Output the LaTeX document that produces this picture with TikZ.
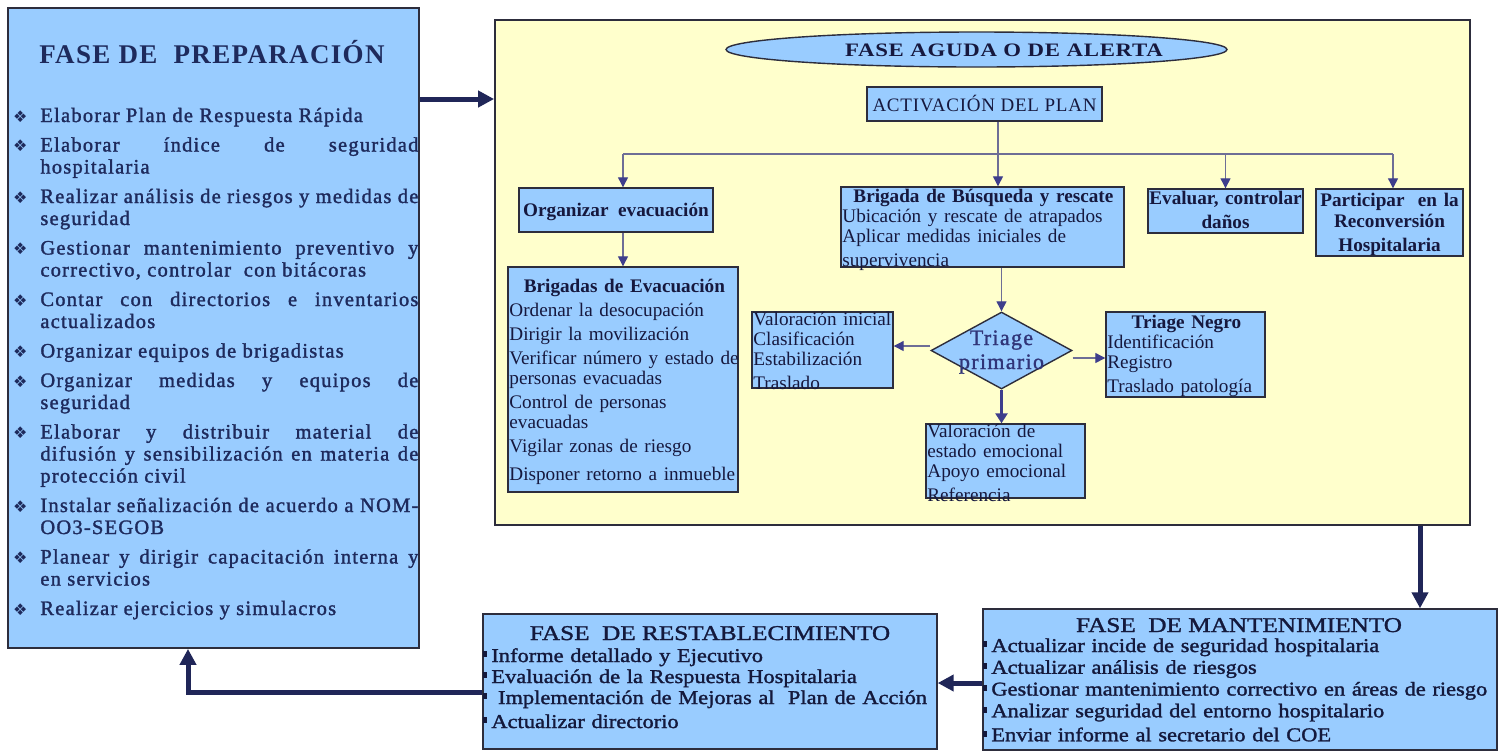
\documentclass[tikz,border=0pt]{standalone}
\usepackage{fontspec}
\setmainfont{Liberation Serif}
\newfontfamily\dejavu{DejaVu Sans}
\newfontfamily\prepfam[FakeBold=1.5]{Liberation Serif}
\newfontfamily\bstretch[FakeStretch=1.15,FakeBold=1.5]{Liberation Serif}
\newfontfamily\tstretch[FakeStretch=1.2,FakeBold=1.5]{Liberation Serif}
\newfontfamily\widefam[FakeStretch=1.2]{Liberation Serif}
\newfontfamily\trifam[FakeBold=1.2]{Liberation Serif}
\usetikzlibrary{arrows.meta,shapes.geometric,fit}
\definecolor{boxblue}{RGB}{153,204,255}
\definecolor{ylw}{RGB}{255,255,204}
\definecolor{bordc}{RGB}{45,45,60}
\definecolor{navy}{RGB}{32,38,88}
\definecolor{preptext}{RGB}{30,42,92}
\definecolor{midtext}{RGB}{22,24,62}
\definecolor{tritext}{RGB}{48,52,120}
\definecolor{bottext}{RGB}{20,25,60}
\definecolor{linec}{RGB}{110,110,150}
\definecolor{headc}{RGB}{62,62,140}
\newcommand\mf{\fontsize{9.6pt}{10pt}\selectfont}
\newcommand\pb{\noindent\llap{{\dejavu\fontsize{8pt}{8pt}\selectfont ❖}\hspace{6.5pt}}}
\newcommand\sq{\makebox[4pt][l]{\rule[2.3pt]{2pt}{3pt}}}
\begin{document}
\begin{tikzpicture}[x=0.5pt,y=-0.5pt,
  bx/.style={draw=bordc, fill=boxblue, line width=0.7pt, inner sep=0pt},
  txtl/.style={anchor=base west, inner sep=0pt, align=left, text=midtext},
  txtc/.style={anchor=base, inner sep=0pt, align=center, text=midtext},
  plain/.style={draw=linec, line width=0.6pt},
  conn/.style={draw=linec, line width=0.6pt, -{Triangle[length=5pt,width=5pt,color=headc]}},
  medarrow/.style={draw=headc, line width=1.4pt, -{Triangle[length=5pt,width=6pt]}},
  bigarrow/.style={draw=navy, line width=2.5pt, -{Triangle[length=8pt,width=8pt]}}]
\fill[white] (0,0) rectangle (1499,751);
\useasboundingbox (0,0) rectangle (1499,751);

% ---------- FASE DE PREPARACION ----------
\node[bx, line width=0.9pt, fit={(8,8) (419,648)}] (prep) {};
\node[anchor=base, inner sep=0pt, text=preptext] (prept) at (212,63)
  {\fontsize{13.5pt}{14pt}\selectfont\bfseries\addfontfeature{LetterSpace=5}FASE DE\ \ PREPARACIÓN};
\node[anchor=base west, inner sep=0pt, text width=189pt, align=justify, text=preptext] (prepl) at (40,122)
  {\prepfam\fontsize{10.25pt}{11pt}\selectfont\addfontfeature{LetterSpace=6}\setlength\parskip{3.75pt}\setlength\parindent{0pt}%
  \pb Elaborar Plan de Respuesta Rápida\par
  \pb Elaborar índice de seguridad\linebreak hospitalaria\par
  \pb Realizar análisis de riesgos y medidas de\linebreak seguridad\par
  \pb Gestionar mantenimiento preventivo y\linebreak correctivo, controlar\ \ con bitácoras\par
  \pb Contar con directorios e inventarios\linebreak actualizados\par
  \pb Organizar equipos de brigadistas\par
  \pb Organizar medidas y equipos de\linebreak seguridad\par
  \pb Elaborar y distribuir material de\linebreak difusión y sensibilización en materia de\linebreak protección civil\par
  \pb Instalar señalización de acuerdo a NOM-\linebreak OO3-SEGOB\par
  \pb Planear y dirigir capacitación interna y\linebreak en servicios\par
  \pb Realizar ejercicios y simulacros\par};

% ---------- FASE AGUDA ----------
\node[draw=bordc, fill=ylw, line width=0.9pt, inner sep=0pt, fit={(495,20) (1470,525)}] (agu) {};
\draw[bigarrow] (prep.east |- 0,99) -- (agu.west |- 0,99);

\node[ellipse, draw=bordc, fill=boxblue, line width=0.7pt, inner sep=0pt,
      minimum width=250.5pt, minimum height=17.5pt] (ell) at (976.5,49.5) {};
\node[anchor=base, inner sep=0pt, text=midtext] (ellt) at (1004,56)
  {\widefam\fontsize{9.5pt}{10pt}\selectfont\bfseries\addfontfeature{LetterSpace=4}FASE AGUDA O DE ALERTA};

\node[bx, fit={(867,87) (1102,121)}] (act) {};
\node[anchor=base, inner sep=0pt, text=midtext] (actt) at (984.5,111)
  {\fontsize{9.5pt}{10pt}\selectfont\addfontfeature{LetterSpace=4}ACTIVACIÓN DEL PLAN};

\node[bx, fit={(519,188) (713,232)}] (org) {};
\node[anchor=base, inner sep=0pt, text=midtext] (orgt) at (616,216) {\mf\bfseries Organizar\ \ evacuación};

\node[bx, fit={(841,187) (1124,267)}] (brig) {};
\node[txtl, text width=150pt] (brigt) at (842,202)
  {\mf\makebox[141pt]{\bfseries Brigada de Búsqueda y rescate}\\Ubicación y rescate de atrapados\\Aplicar medidas iniciales de\\supervivencia};

\node[bx, fit={(1148,189) (1303,233)}] (eva) {};
\node[txtc, text width=80pt] (evat) at (1225.5,204) {\mf\bfseries Evaluar, controlar\\daños};

\node[bx, fit={(1316,189) (1463,256)}] (par) {};
\node[txtc, text width=76pt] (part) at (1389.5,206)
  {\fontsize{9.6pt}{10.5pt}\selectfont\bfseries Participar\ \ en la\\Reconversión\\Hospitalaria};

\node[bx, fit={(508,267) (738,492)}] (bev) {};
\node[txtl, text width=125pt] (bevt) at (509,292)
  {\mf\makebox[115pt]{\bfseries Brigadas de Evacuación}\\[2pt]Ordenar la desocupación\\[2pt]Dirigir la movilización\\[2pt]Verificar número y estado de\\personas evacuadas\\[2pt]Control de personas\\evacuadas\\[2pt]Vigilar zonas de riesgo\\[2pt]Disponer retorno a inmueble};

\node[bx, fit={(752,312) (893,388)}] (vi) {};
\node[txtl, text width=80pt] (vit) at (753,325) {\mf Valoración inicial\\Clasificación\\Estabilización\\Traslado};

\node[diamond, draw=bordc, fill=boxblue, line width=0.7pt, inner sep=0pt,
      minimum width=70.5pt, minimum height=38.5pt] (tp) at (1001.5,350.5) {};
\node[txtc, text width=60pt, text=tritext] (tpt) at (1001.5,345)
  {\trifam\fontsize{11pt}{10pt}\selectfont\addfontfeature{LetterSpace=6}Triage\\primario};

\node[bx, fit={(1106,312) (1265,397)}] (tn) {};
\node[txtl, text width=90pt] (tnt) at (1107,328)
  {\mf\makebox[79pt]{\bfseries Triage Negro}\\Identificación\\Registro\\Traslado patología};

\node[bx, fit={(926,424) (1085,498)}] (ve) {};
\node[txtl, text width=90pt] (vet) at (927,437)
  {\mf Valoración de\\estado emocional\\Apoyo emocional\\Referencia};

% connectors in the acute phase
\coordinate (hL) at (623,154);
\coordinate (hR) at (1393,154);
\draw[conn] (998,0 |- act.south) -- (998,0 |- brig.north);
\draw[plain] (hL) -- (hR);
\draw[conn] (hL) -- (hL |- org.north);
\draw[conn] (hL -| eva.north) -- (eva.north);
\draw[conn] (hR) -- (hR |- par.north);
\draw[conn] (bev.north |- org.south) -- (bev.north);
\draw[conn] (tp.north |- brig.south) -- (tp.north);
\draw[conn] (tp.west |- 0,346) -- (vi.east |- 0,346);
\draw[conn] (tp.east |- 0,358) -- (tn.west |- 0,358);
\draw[medarrow] (tp.south) -- (tp.south |- ve.north);

% ---------- FASE DE MANTENIMIENTO ----------
\node[bx, fit={(983,609) (1497,750)}] (mant) {};
\node[anchor=base, inner sep=0pt, text=bottext] (mantt) at (1239,632)
  {\tstretch\fontsize{10.5pt}{10pt}\selectfont FASE\ \ DE MANTENIMIENTO};
\node[txtl, text width=262pt, text=bottext] (mantl) at (983,652)
  {\bstretch\fontsize{9.75pt}{10.875pt}\selectfont
  \sq Actualizar incide de seguridad hospitalaria\\
  \sq Actualizar análisis de riesgos\\
  \sq Gestionar mantenimiento correctivo en áreas de riesgo\\
  \sq Analizar seguridad del entorno hospitalario\\
  \sq Enviar informe al secretario del COE};

% ---------- FASE DE RESTABLECIMIENTO ----------
\node[bx, fit={(483,614) (937,749)}] (rest) {};
\node[anchor=base, inner sep=0pt, text=bottext] (restt) at (710,640)
  {\tstretch\fontsize{10.5pt}{10pt}\selectfont FASE\ \ DE RESTABLECIMIENTO};
\node[txtl, text width=230pt, text=bottext] (restl) at (483,662)
  {\bstretch\fontsize{9.75pt}{10.5pt}\selectfont
  \sq Informe detallado y Ejecutivo\\
  \sq Evaluación de la Respuesta Hospitalaria\\
  \sq\ Implementación de Mejoras al\ \ Plan de Acción\\
  \sq Actualizar directorio};

% ---------- big arrows between phases ----------
\draw[bigarrow] (1420,0 |- agu.south) -- (1420,0 |- mant.north);
\draw[bigarrow] (mant.west |- 0,683) -- (rest.east |- 0,683);
\draw[bigarrow] (rest.west |- 0,692) -| (188,0 |- prep.south);
\end{tikzpicture}
\end{document}
